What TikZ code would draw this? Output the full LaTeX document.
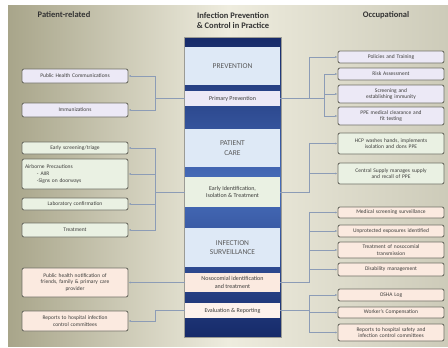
\documentclass[tikz,border=0pt]{standalone}
\usepackage{fontspec}
\setmainfont{Carlito}
\usetikzlibrary{arrows.meta}
\definecolor{bgdark}{RGB}{168,165,138}
\definecolor{bglight}{RGB}{238,236,222}
\definecolor{bgright}{RGB}{205,203,185}
\definecolor{navy}{RGB}{22,42,105}
\definecolor{midblue}{RGB}{72,110,188}
\definecolor{paleblue}{RGB}{222,233,246}
\definecolor{lav}{RGB}{236,233,246}
\definecolor{grn}{RGB}{234,241,227}
\definecolor{pch}{RGB}{251,234,224}
\definecolor{boxline}{RGB}{112,112,102}
\definecolor{connline}{RGB}{140,156,182}
\definecolor{txt}{RGB}{60,60,58}
\hyphenpenalty=10000
\begin{document}
\begin{tikzpicture}[x=1pt, y=-1pt,
    every node/.style={inner sep=0pt, text=txt},
    heading/.style={font=\fontsize{8.5}{10}\selectfont\bfseries, text=black!80, align=center},
    itembox/.style={draw=boxline, line width=0.9pt, rounded corners=2pt,
        minimum width=106pt, text width=100pt, align=center,
        font=\fontsize{5.5}{6.6}\selectfont},
    bigstage/.style={fill=paleblue, minimum width=95pt, align=center,
        font=\fontsize{7.5}{9.5}\selectfont, text=black!65},
    substage/.style={minimum width=95pt, align=center,
        font=\fontsize{6}{7.5}\selectfont},
    conn/.style={draw=connline, line width=0.6pt, -{Latex[length=2.5pt,width=2pt]}},
    link/.style={draw=connline, line width=0.6pt}]

    % background
    \fill[white] (0,0) rectangle (448,348);
    \shade[left color=bgdark, right color=bgright, middle color=bglight] (8,5) rectangle (448,346);
    \useasboundingbox (0,0) rectangle (448,348);

    % headings
    \node[heading] (hleft) at (64,15) {Patient-related};
    \node[heading] (hmid) at (233,21) {Infection Prevention\\\& Control in Practice};
    \node[heading] (hright) at (386,15) {Occupational};

    % central column
    \shade[top color=navy, bottom color=navy, middle color=midblue] (184,37) rectangle (281,337);
    \draw[boxline!70, line width=0.4pt] (184,37) rectangle (281,337);
    \node[bigstage, minimum height=38pt] (prev) at (232.5,66) {PREVENTION};
    \node[substage, fill=lav, minimum height=15pt] (primprev) at (232.5,98.5) {Primary Prevention};
    \node[bigstage, minimum height=38pt] (care) at (232.5,148) {PATIENT\\CARE};
    \node[substage, fill=grn, minimum height=30pt] (earlyid) at (232.5,192) {Early Identification,\\Isolation \& Treatment};
    \node[bigstage, minimum height=39pt] (surv) at (232.5,247.5) {INFECTION\\SURVEILLANCE};
    \node[substage, fill=pch, minimum height=19pt] (noso) at (232.5,282.5) {Nosocomial identification\\and treatment};
    \node[substage, fill=pch!60!white, minimum height=15pt] (evalrep) at (232.5,310.5) {Evaluation \& Reporting};

    % patient-related
    \node[itembox, fill=lav, minimum height=14pt] (pubhealth) at (75,76) {Public Health Communications};
    \node[itembox, fill=lav, minimum height=14pt] (immun) at (75,110) {Immunizations};
    \node[itembox, fill=grn, minimum height=12pt] (triage) at (75,148) {Early screening/triage};
    \node[itembox, fill=grn, minimum height=30pt, align=left] (airborne) at (75,174)
        {Airborne Precautions\\\hspace{12pt}- AIIR\\\hspace{12pt}-Signs on doorways};
    \node[itembox, fill=grn, minimum height=12pt] (labconf) at (75,204) {Laboratory confirmation};
    \node[itembox, fill=grn, minimum height=14pt] (treat) at (75,230) {Treatment};
    \node[itembox, fill=pch, minimum height=29pt] (notify) at (75,282.5)
        {Public health notification of\\friends, family \& primary care\\provider};
    \node[itembox, fill=pch, minimum height=20pt] (leftrep) at (75,321)
        {Reports to hospital infection\\control committees};

    % occupational
    \node[itembox, fill=lav, minimum height=12pt] (policies) at (391,57) {Policies and Training};
    \node[itembox, fill=lav, minimum height=12pt] (riskass) at (391,74) {Risk Assessment};
    \node[itembox, fill=lav, minimum height=18pt] (screening) at (391,94) {Screening and\\establishing immunity};
    \node[itembox, fill=lav, minimum height=18pt] (ppe) at (391,116) {PPE medical clearance and\\fit testing};
    \node[itembox, fill=grn, minimum height=21pt] (hcp) at (391,143.5) {HCP washes hands, implements\\isolation and dons PPE};
    \node[itembox, fill=grn, minimum height=21pt] (supply) at (391,173.5) {Central Supply manages supply\\and recall of PPE};
    \node[itembox, fill=pch, minimum height=11pt] (medscr) at (391,212.5) {Medical screening surveillance};
    \node[itembox, fill=pch, minimum height=12pt] (unprot) at (391,231) {Unprotected exposures identified};
    \node[itembox, fill=pch, minimum height=16pt] (nosotreat) at (391,250) {Treatment of nosocomial\\transmission};
    \node[itembox, fill=pch, minimum height=13pt] (disab) at (391,269.5) {Disability management};
    \node[itembox, fill=pch, minimum height=12pt] (osha) at (391,295) {OSHA Log};
    \node[itembox, fill=pch, minimum height=11pt] (workers) at (391,312.5) {Worker's Compensation};
    \node[itembox, fill=pch, minimum height=17pt] (rightrep) at (391,332.5)
        {Reports to hospital safety and\\infection control committees};

    % bus lines
    \coordinate (lb) at (155,0);
    \coordinate (rb) at (309,0);
    \coordinate (rb2) at (324,0);

    % left connectors
    \foreach \t in {pubhealth, immun}
        \draw[conn] (primprev.west) -- (primprev.west -| lb) |- (\t.east);
    \foreach \t in {triage, airborne, labconf, treat}
        \draw[conn] (earlyid.west) -- (earlyid.west -| lb) |- (\t.east);
    \draw[conn] (noso.west) -- (noso.west -| notify.east);
    \draw[conn] (evalrep.west) -- (evalrep.west -| lb) |- (leftrep.east);

    % right connectors
    \draw[conn] (primprev.east) -- (primprev.east -| rb) |- (policies.west);
    \draw[link] (primprev.east -| rb) -- (primprev.east -| rb2);
    \foreach \t in {riskass, screening, ppe}
        \draw[conn] (primprev.east -| rb2) |- (\t.west);
    \foreach \t in {hcp, supply}
        \draw[conn] (earlyid.east) -- (earlyid.east -| rb) |- (\t.west);
    \foreach \t in {medscr, unprot, nosotreat, disab}
        \draw[conn] (noso.east) -- (noso.east -| rb) |- (\t.west);
    \foreach \t in {osha, workers, rightrep}
        \draw[conn] (evalrep.east) -- (evalrep.east -| rb) |- (\t.west);
\end{tikzpicture}
\end{document}
